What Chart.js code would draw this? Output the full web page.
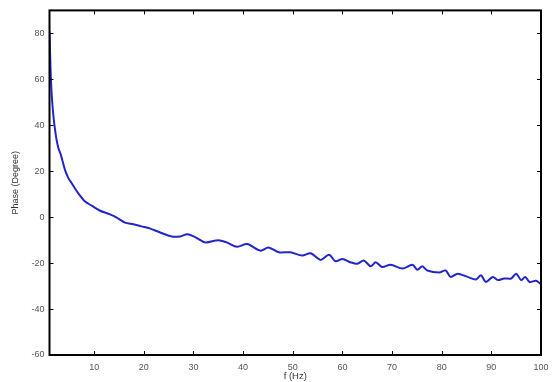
<!DOCTYPE html>
<html><head><meta charset="utf-8">
<script src="https://cdn.jsdelivr.net/npm/chart.js@4"></script>
<style>html,body{margin:0;padding:0;background:#fff}#wrap{width:559px;height:382px}</style>
</head><body><div id="wrap"><canvas id="c" width="559" height="382"></canvas></div>
<script>
const freq = [1,1.2,1.4,1.7,2.0,2.4,2.8,3.3,3.8,4.2,4.8,5.4,6.1,7.0,8.1,9.5,11.2,13.2,14.8,16.2,17.9,19.5,21.2,23.3,25.6,27.3,28.8,30.7,32.4,35,36.7,38.8,40.8,43.5,45.1,47.2,49.5,51.9,53.6,55.6,57.3,58.6,60,61.6,63,64.3,65.7,66.7,68,69.7,72.1,74.1,75.1,76.1,77.1,79.5,80.8,81.8,83.2,85.2,86.9,87.9,88.9,90.3,91.3,92.6,94,95,96,96.8,97.7,99,100];
const phase = [81,65,55,46,40,34,30,27,23,20,17,15,12.6,9.8,6.9,5,2.8,1.2,-0.5,-2.4,-3.1,-4,-4.9,-6.7,-8.4,-8.4,-7.4,-9.1,-11,-10,-11,-12.9,-11.7,-14.6,-13.2,-15.3,-15.3,-16.7,-15.7,-18.6,-16.4,-19.2,-18.2,-19.6,-20.3,-18.9,-21.4,-19.6,-21.7,-20.7,-22.4,-20.7,-22.9,-21.4,-23.2,-24.1,-23.2,-26,-24.6,-26,-27.1,-25.3,-28.2,-26,-27.4,-26.7,-26.7,-24.6,-27.4,-26,-28.2,-27.7,-29.2];
const xTicks = [10,20,30,40,50,60,70,80,90,100];
const yTicks = [-60,-40,-20,0,20,40,60,80];
const xLabel = 'f (Hz)';
const yLabel = 'Phase (Degree)';

const points = freq.map((f,i)=>({x:f,y:phase[i]}));
const font = {family:'"Liberation Sans", Arial, Helvetica, sans-serif', size:9};
const tfont = {family:'"Liberation Sans", Arial, Helvetica, sans-serif', size:9.5};

const framePlugin = {
  id:'frame',
  afterDraw(chart){
    const {ctx, chartArea:a, scales} = chart;
    ctx.save();
    ctx.strokeStyle = '#000';
    ctx.lineWidth = 1;
    const L = 4;
    ctx.beginPath();
    xTicks.forEach(v=>{
      const px = Math.round(scales.x.getPixelForValue(v))+0.5;
      ctx.moveTo(px,a.bottom); ctx.lineTo(px,a.bottom-L);
      ctx.moveTo(px,a.top); ctx.lineTo(px,a.top+L);
    });
    yTicks.forEach(v=>{
      const py = Math.round(scales.y.getPixelForValue(v))+0.5;
      ctx.moveTo(a.left,py); ctx.lineTo(a.left+L,py);
      ctx.moveTo(a.right,py); ctx.lineTo(a.right-L,py);
    });
    ctx.stroke();
    ctx.lineWidth = 2;
    ctx.strokeRect(a.left,a.top,a.right-a.left,a.bottom-a.top);
    ctx.restore();
  }
};

new Chart(document.getElementById('c'),{
  type:'line',
  data:{datasets:[{data:points,borderColor:'#2424cc',borderWidth:2,pointRadius:0,tension:0.3,fill:false}]},
  options:{
    responsive:false,animation:false,
    layout:{padding:{left:0,right:18,top:6,bottom:0}},
    plugins:{legend:{display:false},tooltip:{enabled:false}},
    scales:{
      x:{type:'linear',min:1,max:100,
        afterBuildTicks(s){s.ticks=xTicks.map(v=>({value:v}));},
        afterFit(s){s.height=27;},
        grid:{display:false,drawTicks:false},border:{display:false},
        ticks:{font,color:'#555',padding:7,maxRotation:0,autoSkip:false},
        title:{display:true,text:xLabel,font:tfont,color:'#333',padding:{top:0,bottom:0}}
      },
      y:{type:'linear',min:-60,max:90,
        afterBuildTicks(s){s.ticks=yTicks.map(v=>({value:v}));},
        afterFit(s){s.width=49.5;},
        grid:{display:false,drawTicks:false},border:{display:false},
        ticks:{font,color:'#555',padding:5,autoSkip:false},
        title:{display:true,text:yLabel,font,color:'#333',padding:{top:10,bottom:0}}
      }
    }
  },
  plugins:[framePlugin]
});
</script></body></html>
